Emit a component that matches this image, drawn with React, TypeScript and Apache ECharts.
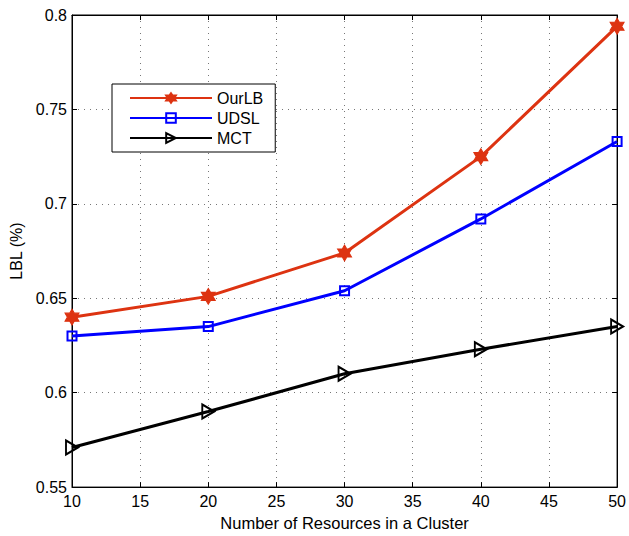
import React, { useEffect, useRef } from "react";
import * as echarts from "echarts";

const xValues = [10, 20, 30, 40, 50];
const ourLB = [0.64, 0.651, 0.674, 0.725, 0.794];
const udsl = [0.63, 0.635, 0.654, 0.692, 0.733];
const mct = [0.571, 0.59, 0.61, 0.623, 0.635];
const seriesNames = ["OurLB", "UDSL", "MCT"];
const xAxisTitle = "Number of Resources in a Cluster";
const yAxisTitle = "LBL (%)";

const hexagram =
  "path://M100,0 L128.87,50 L186.6,50 L157.7,100 L186.6,150 L128.87,150 L100,200 L71.13,150 L13.4,150 L42.3,100 L13.4,50 L71.13,50 Z";
const triRight = "path://M0,0 L10,5 L0,10 Z";

const font = "Liberation Sans, Arial, Helvetica, sans-serif";

export default function App() {
  const ref = useRef<HTMLDivElement>(null);
  useEffect(() => {
    if (!ref.current) return;
    const chart = echarts.init(ref.current, null, { renderer: "svg" });
    const pair = (ys: number[]) => xValues.map((x, i) => [x, ys[i]]);
    const axisCommon = {
      axisLine: { show: true, lineStyle: { color: "#000", width: 1 } },
      axisTick: { show: true, inside: true, length: 5, lineStyle: { color: "#000" } },
    };
    chart.setOption({
      animation: false,
      backgroundColor: "#fff",
      textStyle: { fontFamily: font },
      grid: { left: 72, right: 8, top: 15, bottom: 46, show: true, borderColor: "#000", borderWidth: 1 },
      legend: {
        left: 112,
        top: 84,
        orient: "vertical",
        backgroundColor: "#fff",
        borderColor: "#000",
        borderWidth: 1,
        borderRadius: 0,
        padding: [6, 12, 6, 17],
        itemWidth: 82,
        itemHeight: 12,
        itemGap: 4,
        textStyle: { fontSize: 16, color: "#000", fontFamily: font },
        data: seriesNames,
      },
      xAxis: [
        {
          type: "value",
          min: 10,
          max: 50,
          interval: 5,
          name: xAxisTitle,
          nameLocation: "middle",
          nameGap: 23,
          nameTextStyle: { fontSize: 16.5, color: "#000", fontFamily: font },
          ...axisCommon,
          axisLabel: { color: "#000", fontSize: 16, margin: 6, fontFamily: font },
          splitLine: { show: true, lineStyle: { color: "#777", type: [1, 5], width: 1 } },
        },
        {
          type: "value",
          min: 10,
          max: 50,
          interval: 5,
          position: "top",
          ...axisCommon,
          axisLabel: { show: false },
          splitLine: { show: false },
        },
      ],
      yAxis: [
        {
          type: "value",
          min: 0.55,
          max: 0.8,
          interval: 0.05,
          name: yAxisTitle,
          nameLocation: "middle",
          nameGap: 45,
          nameTextStyle: { fontSize: 16, color: "#000", fontFamily: font },
          ...axisCommon,
          axisLabel: {
            color: "#000",
            fontSize: 16,
            margin: 5,
            fontFamily: font,
            formatter: (v: number) => String(parseFloat(v.toFixed(2))),
          },
          splitLine: { show: true, lineStyle: { color: "#777", type: [1, 5], width: 1 } },
        },
        {
          type: "value",
          min: 0.55,
          max: 0.8,
          interval: 0.05,
          position: "right",
          ...axisCommon,
          axisLabel: { show: false },
          splitLine: { show: false },
        },
      ],
      series: [
        {
          name: seriesNames[0],
          type: "line",
          data: pair(ourLB),
          symbol: hexagram,
          symbolSize: [14, 16],
          lineStyle: { color: "#dd3311", width: 3 },
          itemStyle: { color: "#dd3311", borderColor: "#dd3311", borderWidth: 1 },
          z: 5,
        },
        {
          name: seriesNames[1],
          type: "line",
          data: pair(udsl),
          symbol: "rect",
          symbolSize: 9,
          lineStyle: { color: "#0000ff", width: 3 },
          itemStyle: { color: "transparent", borderColor: "#0000ff", borderWidth: 2 },
          z: 4,
        },
        {
          name: seriesNames[2],
          type: "line",
          data: pair(mct),
          symbol: triRight,
          symbolSize: [12, 14],
          lineStyle: { color: "#000", width: 3 },
          itemStyle: { color: "transparent", borderColor: "#000", borderWidth: 2 },
          z: 3,
        },
      ],
    });
    return () => chart.dispose();
  }, []);
  return <div ref={ref} style={{ width: 629, height: 536, position: "absolute", left: 0, top: 0 }} />;
}
